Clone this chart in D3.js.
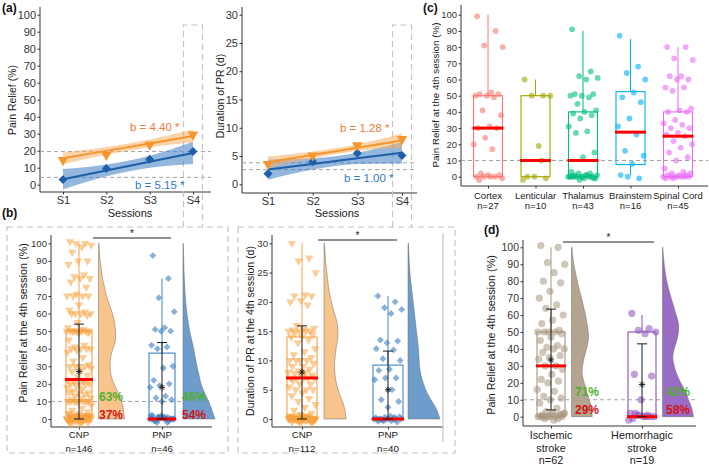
<!DOCTYPE html>
<html><head><meta charset="utf-8">
<script src="https://cdn.jsdelivr.net/npm/d3@7/dist/d3.min.js"></script>
<style>html,body{margin:0;padding:0;background:#fff;} svg{display:block;}</style>
</head><body>
<script>
// ---------------- DATA ----------------
// (a) session trends
const sessions = ["S1","S2","S3","S4"];
const painCNP = [14.5, 17.5, 23.5, 29.5];
const painPNP = [3, 9.5, 15, 19.5];
const painFitCNP = [15.5, 19.9, 24.3, 28.7];
const painFitPNP = [3.2, 8.35, 13.5, 18.65];
const painLoCNP = [12, 17.6, 22, 25];
const painHiCNP = [19, 22.2, 26.6, 32.4];
const painLoPNP = [-2.8, 4.9, 10, 12.2];
const painHiPNP = [9.2, 11.9, 17, 25.2];
const painRef = [19.5, 4.3];
const durCNP = [3.6, 5.1, 6.9, 8.0];
const durPNP = [1.85, 4.0, 5.5, 5.1];
const durFitCNP = [3.9, 5.18, 6.46, 7.74];
const durFitPNP = [2.6, 3.6, 4.6, 5.6];
const durLoCNP = [2.9, 4.6, 5.9, 6.4];
const durHiCNP = [4.9, 5.8, 7.1, 9.0];
const durLoPNP = [0.8, 2.6, 3.6, 3.7];
const durHiPNP = [4.4, 4.6, 5.6, 7.5];
const durRef = [3.8, 2.6];
const slopeLabels = ["b = 4.40 *", "b = 5.15 *", "b = 1.28 *", "b = 1.00 *"];

// (b) CNP vs PNP at 4th session
const npGroups = ["CNP", "PNP"];
const painN = [146, 46];
const durN = [112, 40];
const painValsCNP = [101,100,100,99,98,95,90,90,88,82, 81,80,80,78,75,71,70,70,70,70,
  65,62,61,60,60,60,60,59,55,52, 51,50,50,50,50,50,50,50,50,50, 49,49,45,42,41,40,40,40,40,39,
  38,35,33,31,30,30,30,30,29,28, 27,25,24,22,21,21,20,20,20,20, 19,18,17,16,15,15,15,14,13,12,
  12,11,10,10,10,10,10,10,10,10, 10,10,8,6,5,4,3,3,2,2, 2,1,1,1,1,0,0,0,0,0,
  -1,0,1,0,-2,0,2,0,-1,0, 1,0,-3,0,2,-1,0,1,0,-2, 0,3,0,-1,1,0,-3,0,2,0, -1,0,1,0,-2,0];
const painValsPNP = [93,80,69,61,52,51,50,50,42,41, 40,30,29,22,20,19,18,13,12,11, 10,
  2,1,1,0,0,-1,0,1,2,0,-2,0,1,0,-1,0,0,1,-1,0,2,0,-2,1,0];
const durValsCNP = [30,27.5,27,25,21.2,21,21,20.2,20,19.5, 16,15.5,15.3,15.2,15,15,15,15,14.8,14.5,
  14,14,13.5,13,12,11.5,11,10.5,10,10, 10,10,9.5,9,9,8.5,8.2,8,8,7.8, 7.5,7.5,7,7,7,7,7,6.5,6,6,
  5.5,5,5,5,4.5,4,3.5,3,2.5,2, 1.5,1,0.8,0.5,0.5,0.3,0,0,0,0, -0.3,0,0.3,0,-0.5,0,0.5,0,-0.3,0,
  0.3,0,-0.6,0,0.4,-0.2,0,0.2,0,-0.5, 0,0.6,0,-0.3,0.2,0,-0.6,0,0.4,0, -0.2,0,0.3,0,-0.4,0,0.5,0,-0.3,0, 0.2,0];
const durValsPNP = [21,20,19,18.7,18,13.5,13.3,13,12,11.8, 10.3,10,8.5,8.3,7,7,6.7,5,3.3,3, 2,
  0,0.3,-0.3,0,0.5,0,-0.5,0,0.2,0,-0.2,0.4,0,-0.4,0,0.3,0,-0.3,0];
const painQ1 = [2, 0], painMed = [22.5, 0], painQ3 = [50, 37.5], painHi = [100, 80];
const painMean = [27, 18], painSdLo = [0, 0], painSdHi = [54, 43.5];
const durQ1 = [0, 0], durMed = [7, 0], durQ3 = [14, 9.2], durHi = [30, 21];
const durMean = [8, 5], durSdLo = [0, 0], durSdHi = [15.9, 11.6];
const painAbove = ["63%", "46%"], painBelow = ["37%", "54%"];
const painGrid = [100,95,90,85,80,75,70,65,60,55,50,45,40,35,30,25,20,15,10,5,0];
const durGrid = [30,28.5,27,25.5,24,22.5,21,19.5,18,16.5,15,13.5,12,10.5,9,7.5,6,4.5,3,1.5,0];
const painDensCNP = [0.5,1,1.7,2.8,4,6,8,11,14,16,17,17,14.5,12,11.7,12.5,15.5,19.5,23,25,26];
const painDensPNP = [0.3,0.5,0.8,1,1.3,1.8,2.3,3,4,5.2,6.7,8.7,10.7,12.3,14,16,18,21.5,25.7,29,32];
const durDensCNP = [0.5,1,1.5,2.5,3.5,4.5,6,8,10.5,13,14,13.5,12,11,10.5,11,12.5,15,18.5,21,22];
const durDensPNP = [0.5,0.8,1.2,1.7,2.5,3.5,4.5,5.5,6.5,7.5,8.5,9.5,10.5,11,11.5,13,15.5,19,24,29,32];

// (c) lesion location
const regions = ["Cortex", "Lenticular", "Thalamus", "Brainstem", "Spinal Cord"];
const regionN = [27, 10, 43, 16, 45];
const regionQ1 = [0, 0, 0, 7.5, 0];
const regionMed = [30, 10, 10, 27.5, 25];
const regionQ3 = [50, 50, 40, 52.5, 40];
const regionLo = [0, 0, 0, 1, 0];
const regionHi = [100, 60, 90, 85, 80];
const cortexVals = [99,90,81,80,52,51,51,50,50,49, 41,38,31,30,30,24,20,17,2,1, 1,0,0,0,-1,0,-2];
const lenticularVals = [60,50,50,50,19,0,-1,0,-2,10];
const thalamusVals = [91,65,62,61,60,51,51,50,50,49, 45,41,40,39,38,36,31,28,27,15, 12,
  3,2,2,1,1,1,0,0,0,0, 0,-1,-1,0,0,-2,0,1,0,-1, 0,0];
const brainstemVals = [87,68,64,60,52,49,46,36,31,26,16,13,8,1,-1,0];
const spinalVals = [80,80,73,72,62,62,60,60,55,55, 53,42,41,40,40,35,33,32,30,30,
  27,26,25,22,20,18,15,12,10,5, 3,2,2,1,1,1,0,0,0,0, 0,0,-1,0,-1];

// (d) stroke type
const strokeTypes = ["Ischemic stroke", "Hemorrhagic stroke"];
const strokeN = [62, 19];
const ischemicVals = [101,100,91,90,85,80,79,74,70,66, 64,60,57,55,51,50,50,50,50,49,
  47,45,42,41,40,40,38,36,35,34, 30,30,28,25,22,21,20,16,15,12, 11,10,8,5,3,2,2,1,1,0,
  0,0,-1,0,1,0,-1,0,2,-2, 0,1];
const hemorrhagicVals = [61,52,51,50,49,25,24,10, 2,1,1,0,0,-1,0,1,-2,0,2];
const strokeQ1 = [0, 0], strokeMed = [30, 0], strokeQ3 = [50, 50], strokeHi = [100, 60];
const strokeMean = [33.5, 19], strokeSdLo = [4, 0], strokeSdHi = [63.5, 43];
const strokeAbove = ["71%", "42%"], strokeBelow = ["29%", "58%"];
const strokeDensIsch = [0.5,1.2,2.3,4,5.7,7.8,10,12,14,15.5,16.7,16.7,15,12.7,11,10.7,12.7,15,17.7,20,20.7];
const strokeDensHem = [0.3,0.9,1.7,2.8,4.3,6.3,8.7,11.2,13.7,16,16,14.3,11.7,10.3,11.7,14.3,18.3,22.7,26,29.3,31];

const pct10 = d3.range(0, 101, 10);
const dur5 = d3.range(0, 31, 5);

// ---------------- STYLE ----------------
const FONT = "'Liberation Sans', Arial, Helvetica, sans-serif";
const AX = "#333";
const ORANGE = "#F5962F", BLUE = "#1C5EA8";
const GREEN = "#4CAF2A", RED = "#D01515";
const MEDRED = "#FF0000";

const svg = d3.select("body").append("svg").attr("width", 709).attr("height", 469)
  .style("font-family", FONT);

function axes(o) {
  const g = svg.append("g");
  const gy = g.append("g").attr("transform", `translate(${o.x0},0)`)
    .call(d3.axisLeft(o.y).tickValues(o.yTicks).tickSize(2.5).tickPadding(1.5));
  const gx = g.append("g").attr("transform", `translate(0,${o.yb})`)
    .call(d3.axisBottom(o.x).tickSize(2.5).tickPadding(2).tickFormat(o.xLab ? null : ""));
  [gy, gx].forEach(s => {
    s.select(".domain").remove();
    s.selectAll(".tick line").attr("stroke", AX);
    s.selectAll(".tick text").attr("fill", "#333").attr("font-size", o.fs).attr("font-family", FONT);
  });
  g.append("line").attr("x1", o.x0).attr("x2", o.x0).attr("y1", o.yt).attr("y2", o.yb)
    .attr("stroke", AX).attr("stroke-width", 1);
  g.append("line").attr("x1", o.x0).attr("x2", o.x1).attr("y1", o.yb).attr("y2", o.yb)
    .attr("stroke", AX).attr("stroke-width", 1);
  g.append("text").attr("transform", `translate(${o.tx},${o.ty}) rotate(-90)`)
    .attr("text-anchor", "middle").attr("dominant-baseline", "central")
    .attr("font-size", o.tfs).attr("fill", "#1a1a1a").text(o.title);
  return g;
}
function txt(x, y, s, fs, opt = {}) {
  return svg.append("text").attr("x", x).attr("y", y).attr("font-size", fs)
    .attr("text-anchor", opt.anchor || "middle").attr("fill", opt.fill || "#222")
    .attr("font-weight", opt.bold ? "bold" : "normal").text(s);
}
function hline(x1, x2, y, opt = {}) {
  svg.append("line").attr("x1", x1).attr("x2", x2).attr("y1", y).attr("y2", y)
    .attr("stroke", opt.stroke || "#999").attr("stroke-width", opt.w || 0.9)
    .attr("stroke-dasharray", opt.dash || "4,3");
}
function jit(i, w) { return ((i * 0.6180339887 + 0.137) % 1 - 0.5) * w; }
function box(cx, w, y, q1, med, q3, lo, hi, color) {
  const g = svg.append("g");
  g.append("line").attr("x1", cx).attr("x2", cx).attr("y1", y(q3)).attr("y2", y(hi)).attr("stroke", color).attr("stroke-width", 1);
  if (lo < q1) g.append("line").attr("x1", cx).attr("x2", cx).attr("y1", y(q1)).attr("y2", y(lo)).attr("stroke", color).attr("stroke-width", 1);
  g.append("rect").attr("x", cx - w / 2).attr("y", y(q3)).attr("width", w).attr("height", y(q1) - y(q3))
    .attr("fill", "none").attr("stroke", color).attr("stroke-width", 1.1);
}
function median(cx, w, y, med) {
  svg.append("line").attr("x1", cx - w / 2 - 1).attr("x2", cx + w / 2 + 1).attr("y1", y(med)).attr("y2", y(med))
    .attr("stroke", MEDRED).attr("stroke-width", 3);
}
function errbar(cx, y, lo, hi, mean) {
  const g = svg.append("g").attr("stroke", "#1a1a1a").attr("stroke-width", 1).attr("fill", "none");
  g.append("line").attr("x1", cx).attr("x2", cx).attr("y1", y(lo)).attr("y2", y(hi));
  [lo, hi].forEach(v => g.append("line").attr("x1", cx - 5).attr("x2", cx + 5).attr("y1", y(v)).attr("y2", y(v)));
  const cy = y(mean), r = 3.2, q = r * 0.72;
  g.append("path").attr("stroke-width", 0.9)
    .attr("d", `M${cx - r},${cy}H${cx + r}M${cx},${cy - r}V${cy + r}M${cx - q},${cy - q}L${cx + q},${cy + q}M${cx - q},${cy + q}L${cx + q},${cy - q}`);
}
function violin(x0, y, grid, dens, color) {
  const pts = grid.map((v, i) => [v, dens[i]]);
  const area = d3.area().y(d => y(d[0])).x0(x0).x1(d => x0 + d[1]).curve(d3.curveCatmullRom);
  svg.append("path").datum(pts).attr("d", area).attr("fill", color)
    .attr("stroke", "#6a6a6a").attr("stroke-width", 0.5);
}
function sig(x1, x2, y) {
  svg.append("line").attr("x1", x1).attr("x2", x2).attr("y1", y).attr("y2", y).attr("stroke", "#222").attr("stroke-width", 1);
  txt((x1 + x2) / 2, y - 1, "*", 10);
}
const triSym = d3.symbol().type(d3.symbolTriangle).size(30)();
const diaSym = d3.symbol().type(d3.symbolSquare).size(24)();
function tris(vals, cx, y, w, color, op) {
  svg.append("g").selectAll("path").data(vals).join("path").attr("d", triSym)
    .attr("transform", (d, i) => `translate(${cx + jit(i, w)},${y(d)}) rotate(180)`)
    .attr("fill", color).attr("fill-opacity", op);
}
function dias(vals, cx, y, w, color, op) {
  svg.append("g").selectAll("path").data(vals).join("path").attr("d", diaSym)
    .attr("transform", (d, i) => `translate(${cx + jit(i, w)},${y(d)}) rotate(45)`)
    .attr("fill", color).attr("fill-opacity", op);
}
function dots(vals, cx, y, w, r, color, op) {
  svg.append("g").selectAll("circle").data(vals).join("circle")
    .attr("cx", (d, i) => cx + jit(i, w)).attr("cy", d => y(d)).attr("r", r)
    .attr("fill", color).attr("fill-opacity", op);
}

// ---------------- PANEL LABELS & FRAMES ----------------
txt(2, 12, "(a)", 12, { anchor: "start", bold: true, fill: "#111" });
txt(2, 217, "(b)", 12, { anchor: "start", bold: true, fill: "#111" });
txt(423, 12, "(c)", 12, { anchor: "start", bold: true, fill: "#111" });
txt(484, 234, "(d)", 12, { anchor: "start", bold: true, fill: "#111" });

function dashFrame(d) {
  svg.append("path").attr("d", d).attr("fill", "none").attr("stroke", "#c4c4c4")
    .attr("stroke-width", 1.2).attr("stroke-dasharray", "6,4");
}
dashFrame("M7,227H228V453H7Z");
dashFrame("M238,227H455V453H238Z");

// ---------------- PANEL (a) ----------------
function trendPanel(o) {
  const x = d3.scalePoint().domain(sessions).range(o.xr);
  const y = d3.scaleLinear().domain(o.dom).range(o.yr);
  axes({ x, y, yTicks: o.ticks, x0: o.x0, x1: o.x1, yt: 7, yb: o.yb, fs: 11, xLab: true,
    tx: o.tx, ty: o.ty, tfs: 10.5, title: o.title });
  o.ref.forEach(v => hline(o.x0, o.x1, y(v)));
  // S4 highlight frame
  dashFrame(`M${x("S4") - 9.5},227V25H${x("S4") + 9.5}V227`);
  const series = [
    { lo: o.loP, hi: o.hiP, fit: o.fitP, pts: o.ptsP, col: BLUE, band: "#3D7CC2", sym: diaSym, rot: 45, sz: 1 },
    { lo: o.loC, hi: o.hiC, fit: o.fitC, pts: o.ptsC, col: ORANGE, band: "#F7AE60", sym: d3.symbol().type(d3.symbolTriangle).size(48)(), rot: 180, sz: 1 }
  ];
  series.forEach(s => {
    const band = d3.area().x((d, i) => x(sessions[i])).y0((d, i) => y(s.lo[i])).y1((d, i) => y(s.hi[i])).curve(d3.curveMonotoneX);
    svg.append("path").datum(sessions).attr("d", band).attr("fill", s.band).attr("fill-opacity", 0.55);
  });
  series.forEach(s => {
    const line = d3.line().x((d, i) => x(sessions[i])).y(d => y(d));
    svg.append("path").datum(s.fit).attr("d", line).attr("fill", "none").attr("stroke", s.col).attr("stroke-width", 2);
    svg.append("g").selectAll("path").data(s.pts).join("path")
      .attr("d", s.rot === 45 ? d3.symbol().type(d3.symbolSquare).size(40)() : s.sym)
      .attr("transform", (d, i) => `translate(${x(sessions[i])},${y(d)}) rotate(${s.rot})`)
      .attr("fill", s.col);
  });
  txt((o.xr[0] + o.xr[1]) / 2 + 2, 216.5, "Sessions", 11);
  txt(o.labC[0], o.labC[1], o.labs[0], 11.5, { anchor: "start", fill: "#F07A36" });
  txt(o.labP[0], o.labP[1], o.labs[1], 11.5, { anchor: "start", fill: "#2F7BC4" });
}
trendPanel({ xr: [63, 193], dom: [0, 100], yr: [184.7, 14.7], ticks: pct10, x0: 40, x1: 211, yb: 192,
  tx: 12, ty: 100, title: "Pain Relief (%)", ref: painRef,
  loP: painLoPNP, hiP: painHiPNP, fitP: painFitPNP, ptsP: painPNP,
  loC: painLoCNP, hiC: painHiCNP, fitC: painFitCNP, ptsC: painCNP,
  labs: [slopeLabels[0], slopeLabels[1]], labC: [130, 131], labP: [135, 188.5] });
trendPanel({ xr: [268, 402], dom: [0, 30], yr: [184.3, 14.7], ticks: dur5, x0: 242, x1: 417, yb: 193,
  tx: 220, ty: 96, title: "Duration of PR (d)", ref: durRef,
  loP: durLoPNP, hiP: durHiPNP, fitP: durFitPNP, ptsP: durPNP,
  loC: durLoCNP, hiC: durHiCNP, fitC: durFitCNP, ptsC: durCNP,
  labs: [slopeLabels[2], slopeLabels[3]], labC: [340, 132], labP: [344, 182] });

// ---------------- PANEL (b) ----------------
{
  const x = d3.scalePoint().domain(npGroups).range([79, 162]);
  const y = d3.scaleLinear().domain([0, 100]).range([419, 243.3]);
  axes({ x, y, yTicks: pct10, x0: 51, x1: 212, yt: 235, yb: 427, fs: 9.6,
    tx: 23, ty: 323, tfs: 10.8, title: "Pain Relief at the 4th session (%)" });
  hline(51, 212, y(10));
  const bw = 26;
  box(x("CNP"), bw, y, painQ1[0], painMed[0], painQ3[0], 0, painHi[0], "#F5A04A");
  box(x("PNP"), bw, y, painQ1[1], painMed[1], painQ3[1], 0, painHi[1], "#3C86C8");
  tris(painValsCNP, x("CNP"), y, 25, "#F7A240", 0.55);
  dias(painValsPNP, x("PNP"), y, 25, "#3A7DC0", 0.6);
  violin(x("CNP") + 19.5, y, painGrid, painDensCNP, "#F9C48C");
  violin(x("PNP") + 21, y, painGrid, painDensPNP, "#6E9DCB");
  npGroups.forEach((g, i) => {
    median(x(g), bw, y, painMed[i]);
    errbar(x(g), y, painSdLo[i], painSdHi[i], painMean[i]);
    txt(x(g) + 20, 400.5, painAbove[i], 12, { anchor: "start", bold: true, fill: GREEN });
    txt(x(g) + 20, 418.5, painBelow[i], 12, { anchor: "start", bold: true, fill: RED });
    txt(x(g), 438, g, 9.6);
    txt(x(g), 452, "n=" + painN[i], 9.6);
  });
  sig(93, 171, 238);
}
{
  const x = d3.scalePoint().domain(npGroups).range([302, 388]);
  const y = d3.scaleLinear().domain([0, 30]).range([419, 243.3]);
  axes({ x, y, yTicks: dur5, x0: 272, x1: 443, yt: 235, yb: 427, fs: 9.6,
    tx: 250, ty: 331, tfs: 10.5, title: "Duration of PR at the 4th session (d)" });
  svg.append("line").attr("x1", 443).attr("x2", 443).attr("y1", 233).attr("y2", 442)
    .attr("stroke", "#c8c8c8").attr("stroke-width", 1.3);
  const bw = 30;
  box(x("CNP"), bw, y, durQ1[0], durMed[0], durQ3[0], 0, durHi[0], "#F5A04A");
  box(x("PNP"), bw, y, durQ1[1], durMed[1], durQ3[1], 0, durHi[1], "#3C86C8");
  tris(durValsCNP, x("CNP"), y, 28, "#F7A240", 0.55);
  dias(durValsPNP, x("PNP"), y, 28, "#3A7DC0", 0.6);
  violin(x("CNP") + 22, y, durGrid, durDensCNP, "#F9C48C");
  violin(x("PNP") + 20, y, durGrid, durDensPNP, "#6E9DCB");
  npGroups.forEach((g, i) => {
    median(x(g), bw, y, durMed[i]);
    errbar(x(g), y, durSdLo[i], durSdHi[i], durMean[i]);
    txt(x(g), 438, g, 9.8);
    txt(x(g), 452, "n=" + durN[i], 9.8);
  });
  sig(318, 397, 240);
}

// ---------------- PANEL (c) ----------------
{
  const x = d3.scalePoint().domain(regions).range([488, 678]);
  const y = d3.scaleLinear().domain([0, 100]).range([176.7, 14.7]);
  axes({ x, y, yTicks: pct10, x0: 461, x1: 708, yt: 5, yb: 186, fs: 9.5,
    tx: 435, ty: 95, tfs: 9.8, title: "Pain Relief at the 4th session (%)" });
  hline(461, 708, y(10));
  const cols = ["#F8766D", "#A3A500", "#00BF7D", "#00B0F6", "#E76BF3"];
  const vals = [cortexVals, lenticularVals, thalamusVals, brainstemVals, spinalVals];
  const bw = 29;
  regions.forEach((r, i) => {
    box(x(r), bw, y, regionQ1[i], regionMed[i], regionQ3[i], regionLo[i], regionHi[i], cols[i]);
    dots(vals[i], x(r), y, 30, 2.9, cols[i], 0.6);
    median(x(r), bw, y, regionMed[i]);
    txt(x(r), 199, r, 9.5);
    txt(x(r), 209, "n=" + regionN[i], 9.5);
  });
}

// ---------------- PANEL (d) ----------------
{
  const x = d3.scalePoint().domain(strokeTypes).range([551, 642]);
  const y = d3.scaleLinear().domain([0, 100]).range([416.7, 247.3]);
  axes({ x, y, yTicks: pct10, x0: 523, x1: 696, yt: 240, yb: 426, fs: 10.5,
    tx: 491, ty: 335, tfs: 10.8, title: "Pain Relief at the 4th session (%)" });
  hline(523, 696, y(10));
  const bw = 28;
  const cols = ["#A8957D", "#8E4FB8"];
  const dcols = ["#B4A591", "#9B6CC3"];
  const vals = [ischemicVals, hemorrhagicVals];
  const dens = [strokeDensIsch, strokeDensHem];
  strokeTypes.forEach((s, i) => {
    box(x(s), bw, y, strokeQ1[i], strokeMed[i], strokeQ3[i], 0, strokeHi[i], cols[i]);
    dots(vals[i], x(s), y, 28, 3.6, cols[i], 0.55);
    violin(x(s) + 20.5, y, painGrid, dens[i], dcols[i]);
    median(x(s), bw, y, strokeMed[i]);
    errbar(x(s), y, strokeSdLo[i], strokeSdHi[i], strokeMean[i]);
    txt(x(s) + 24, 396, strokeAbove[i], 12, { anchor: "start", bold: true, fill: GREEN });
    txt(x(s) + 24, 413.5, strokeBelow[i], 12, { anchor: "start", bold: true, fill: RED });
    const parts = s.split(" ");
    txt(x(s), 439, parts[0], 10.8);
    txt(x(s), 451.5, parts[1], 10.8);
    txt(x(s), 463.5, "n=" + strokeN[i], 10.8);
  });
  sig(563, 654, 242);
}
</script>
</body></html>
